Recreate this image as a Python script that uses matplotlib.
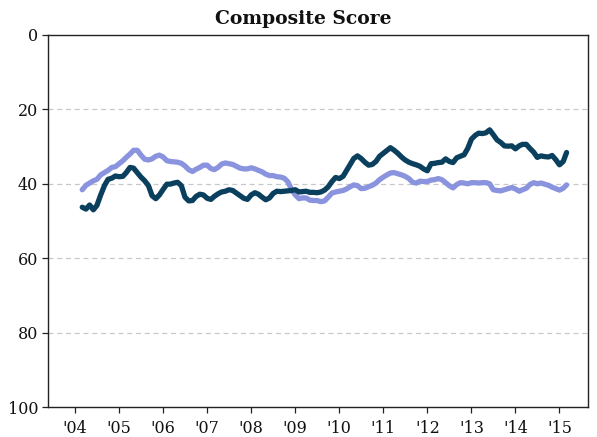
import pandas as pd
import matplotlib
matplotlib.use("Agg")
import matplotlib.pyplot as plt

# monthly composite score, Mar 2004 - Mar 2015 (lower is better, axis inverted)
start_month = "2004-03-01"

dark_scores = [
    46.3, 46.8, 45.7, 47.0, 45.8, 43.0, 40.5, 38.8, 38.5, 37.9, 38.1, 38.0,
    37.0, 35.6, 35.8, 37.0, 38.2, 39.2, 40.5, 43.2, 44.0, 43.0, 41.5, 40.1,
    40.1, 39.8, 39.6, 40.5, 43.6, 44.6, 44.5, 43.4, 42.8,
    43.0, 43.9, 44.2, 43.4, 42.7, 42.2, 42.0, 41.6, 41.8, 42.5, 43.2, 43.9,
    44.2, 43.0, 42.4, 42.8, 43.6, 44.3, 43.8, 42.6, 42.0, 42.1, 42.0, 41.9,
    41.8, 41.6, 42.2, 42.1, 42.0, 42.3, 42.3, 42.4,
    42.2, 41.7, 40.8, 39.4, 38.3, 38.6, 38.0, 36.5, 34.8, 33.2, 32.5, 33.2,
    34.2, 35.0, 34.8, 34.0, 32.6, 31.8, 31.0, 30.3, 31.0, 31.8, 32.8, 33.6,
    34.2, 34.6, 34.9, 35.3, 36.0, 36.5, 34.6, 34.5, 34.3, 34.2, 33.3, 34.0,
    34.3, 33.0, 32.6, 32.2, 30.5, 28.0, 27.0, 26.4, 26.5, 26.3, 25.5, 26.8,
    28.2, 28.9, 29.8, 29.9, 29.8, 30.6, 29.8, 29.4, 29.4, 30.5, 31.5, 32.9,
    32.5, 32.7, 32.8, 32.4, 33.5, 34.9, 34.0, 31.6,
]

light_scores = [
    41.6, 40.4, 39.8, 39.2, 38.8, 37.6, 37.0, 36.4, 35.6, 35.4, 34.6, 33.8,
    32.9, 32.0, 31.0, 31.0, 32.3, 33.4, 33.6, 33.3, 32.6, 32.3, 32.8, 33.8,
    34.0, 34.1, 34.2, 34.5, 35.2, 36.2, 36.7, 36.1, 35.6,
    35.0, 35.0, 35.9, 36.2, 35.6, 34.7, 34.4, 34.6, 34.8, 35.3, 35.8, 36.0,
    36.0, 35.7, 36.0, 36.4, 36.8, 37.4, 37.8, 37.8, 38.1, 38.2, 38.5, 39.5,
    41.5, 43.0, 44.0, 43.8, 43.8, 44.4, 44.5, 44.5,
    44.8, 44.6, 43.6, 42.5, 42.2, 42.0, 41.8, 41.4, 40.8, 40.3, 40.5, 41.3,
    41.2, 40.8, 40.4, 39.8, 38.9, 38.2, 37.6, 37.1, 37.0, 37.3, 37.6, 38.0,
    38.6, 39.6, 39.8, 39.3, 39.4, 39.4, 39.0, 38.9, 38.6, 38.9, 39.7, 40.5,
    41.1, 40.2, 39.7, 39.8, 40.0, 39.7, 39.7, 39.8, 39.7, 39.7, 40.0, 41.6,
    41.8, 41.9, 41.6, 41.3, 41.0, 41.4, 42.0, 41.6, 41.2, 40.2, 39.7, 40.0,
    39.8, 40.1, 40.4, 40.9, 41.3, 41.7, 41.2, 40.3,
]

tick_years = list(range(2004, 2016))
tick_labels = ["'%02d" % (y % 100) for y in tick_years]
y_ticks = [0, 20, 40, 60, 80, 100]

dates = pd.date_range(start_month, periods=len(dark_scores), freq="MS")

DARK = "#0b3f5e"
LIGHT = "#8a93de"
SERIF = ["DejaVu Serif"]

fig = plt.figure(figsize=(5.97, 4.37), dpi=100)
ax = fig.add_axes([0.0804, 0.0686, 0.9046, 0.8514])

ax.plot(dates, light_scores, color=LIGHT, lw=3.8, solid_capstyle="round", zorder=3)
ax.plot(dates, dark_scores, color=DARK, lw=3.8, solid_capstyle="round", zorder=4)

ax.set_ylim(100, 0)
ax.set_yticks(y_ticks)
ax.set_xlim(pd.Timestamp("2003-05-22"), pd.Timestamp("2015-08-26"))
ax.set_xticks([pd.Timestamp(f"{y}-01-01") for y in tick_years])
ax.set_xticklabels(tick_labels)

for yv in y_ticks[1:-1]:
    ax.axhline(yv, color="#c8c8c8", lw=0.9, ls=(0, (4, 3)), zorder=1)

for sp in ax.spines.values():
    sp.set_color("#222222")
    sp.set_linewidth(1.0)

ax.tick_params(axis="both", direction="out", length=4, width=0.9, color="#222222",
               labelsize=11.5, labelcolor="#111111")
ax.tick_params(axis="x", pad=5)
ax.tick_params(axis="y", pad=3)
for lab in ax.get_xticklabels() + ax.get_yticklabels():
    lab.set_family(SERIF)

# title sits centred on the figure, not on the axes
fig.text(0.508, 0.957, "Composite Score", family=SERIF, fontsize=13.5,
         fontweight="bold", color="#111111", ha="center", va="center")

fig.savefig("out.png", dpi=100)
